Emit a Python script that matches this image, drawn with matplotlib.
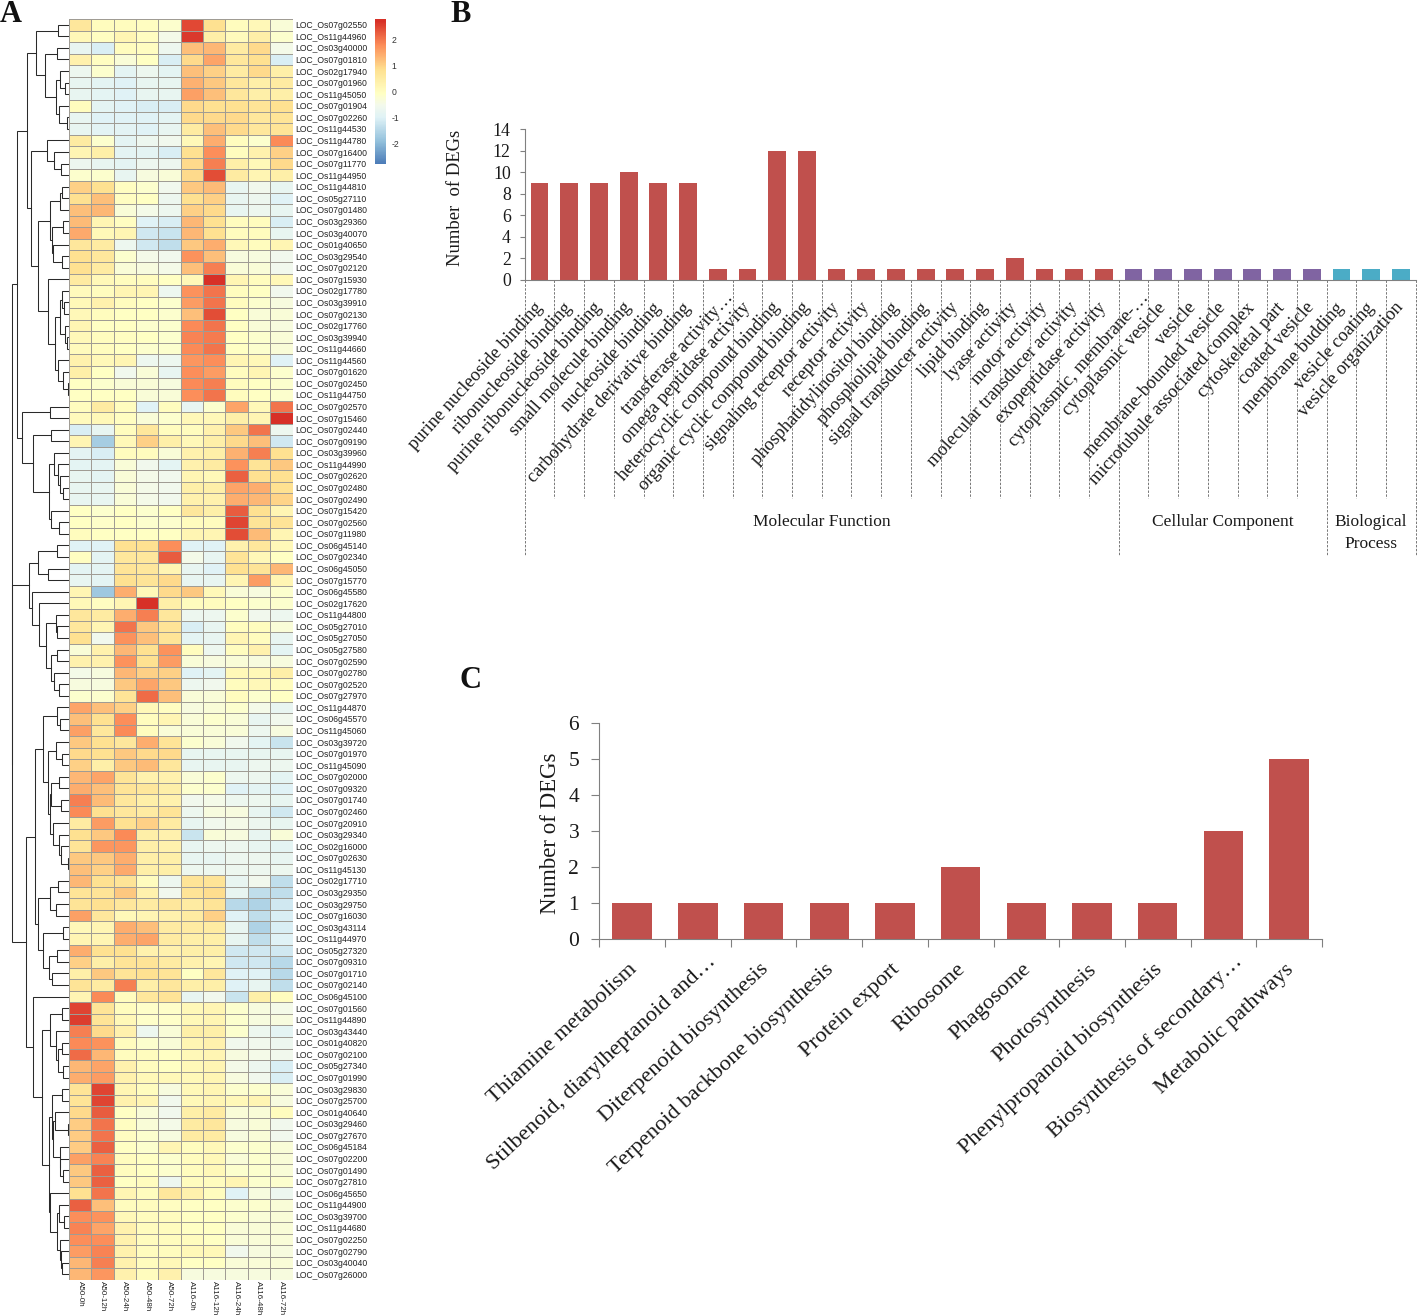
import numpy as np, matplotlib
matplotlib.use('Agg')
import matplotlib.pyplot as plt
from matplotlib.colors import LinearSegmentedColormap
from matplotlib.transforms import ScaledTranslation

##### DATA #####

gene_ids = """Os07g02550 Os11g44960 Os03g40000 Os07g01810 Os02g17940 Os07g01960 Os11g45050 Os07g01904 Os07g02260 Os11g44530
Os11g44780 Os07g16400 Os07g11770 Os11g44950 Os11g44810 Os05g27110 Os07g01480 Os03g29360 Os03g40070 Os01g40650
Os03g29540 Os07g02120 Os07g15930 Os02g17780 Os03g39910 Os07g02130 Os02g17760 Os03g39940 Os11g44660 Os11g44560
Os07g01620 Os07g02450 Os11g44750 Os07g02570 Os07g15460 Os07g02440 Os07g09190 Os03g39960 Os11g44990 Os07g02620
Os07g02480 Os07g02490 Os07g15420 Os07g02560 Os07g11980 Os06g45140 Os07g02340 Os06g45050 Os07g15770 Os06g45580
Os02g17620 Os11g44800 Os05g27010 Os05g27050 Os05g27580 Os07g02590 Os07g02780 Os07g02520 Os07g27970 Os11g44870
Os06g45570 Os11g45060 Os03g39720 Os07g01970 Os11g45090 Os07g02000 Os07g09320 Os07g01740 Os07g02460 Os07g20910
Os03g29340 Os02g16000 Os07g02630 Os11g45130 Os02g17710 Os03g29350 Os03g29750 Os07g16030 Os03g43114 Os11g44970
Os05g27320 Os07g09310 Os07g01710 Os07g02140 Os06g45100 Os07g01560 Os11g44890 Os03g43440 Os01g40820 Os07g02100
Os05g27340 Os07g01990 Os03g29830 Os07g25700 Os01g40640 Os03g29460 Os07g27670 Os06g45184 Os07g02200 Os07g01490
Os07g27810 Os06g45650 Os11g44900 Os03g39700 Os11g44680 Os07g02250 Os07g02790 Os03g40040 Os07g26000""".split()
gene_labels = ['LOC_' + g for g in gene_ids]

samples = ['A50-0h', 'A50-12h', 'A50-24h', 'A50-48h', 'A50-72h',
           'A116-0h', 'A116-12h', 'A116-24h', 'A116-48h', 'A116-72h']

expr = [
    [0.7,0.1,0.1,0.05,-0.1,2.55,0.9,0.1,0.2,-0.2],
    [0.2,0.05,0.3,0.05,-0.4,2.7,0.5,0.15,0.5,-0.1],
    [-0.7,-1.0,0.1,0.05,-0.6,1.3,1.4,0.6,1.0,-0.4],
    [0.4,0.05,-0.2,0,-1.0,1.0,1.6,0.7,0.9,-1.0],
    [-0.6,-0.1,-0.8,-0.6,-0.8,1.3,1.1,0.6,1.0,0.5],
    [-0.7,-0.8,-0.9,-0.7,-0.7,1.45,1.2,0.7,0.5,0.6],
    [-0.7,-0.8,-0.9,-0.7,-0.7,1.65,1.3,0.7,0.5,0.5],
    [0.1,-0.8,-0.9,-1,-1,1.0,0.9,0.9,0.8,0.9],
    [-0.7,-0.9,-0.9,-0.9,-0.8,1.0,1.0,1.0,0.7,0.8],
    [-0.7,-0.85,-0.85,-0.9,-0.7,0.6,1.3,1.0,0.7,0.8],
    [0.6,-0.1,-0.8,-0.6,-0.5,0.2,1.5,0.1,-0.1,1.9],
    [0.3,0.5,-0.8,-0.8,-1.0,0.9,1.85,0.1,0.4,1.1],
    [-0.6,-0.7,-0.8,-0.6,-0.6,1.0,2.0,0.5,0.2,1.0],
    [-0.1,-0.1,-0.7,-0.3,-0.2,1.0,2.5,0.6,0.3,0.5],
    [1.1,0.9,0.05,-0.1,-0.5,1.2,1.35,-0.7,-0.5,-0.7],
    [0.9,1.3,0.05,0,-0.6,0.9,1.1,-0.7,-0.6,-0.9],
    [1.3,1.4,-0.2,-0.4,-0.6,1.1,1.0,-0.7,-0.6,-0.7],
    [1.35,0.3,0.05,-0.9,-1,1.4,0.9,0.1,0.1,-1.0],
    [1.55,0.2,0.3,-1.1,-1.2,1.4,0.9,0.1,0.1,-0.7],
    [0.7,0.6,-0.6,-1.1,-1.3,1.2,1.5,0.2,0.1,0.3],
    [0.9,0.7,-0.1,-0.4,-0.5,1.8,1.3,-0.3,-0.3,-0.5],
    [0.9,0.6,-0.2,-0.3,-0.4,1.3,2.0,-0.2,-0.2,-0.5],
    [0.6,0.2,0.1,0.1,0,0.2,2.8,0.3,0.1,0.2],
    [0.15,0.1,0.3,0.3,-0.6,1.8,2.1,0.1,0,-0.5],
    [0.2,0.4,0.1,0,-0.1,1.7,2.1,0.1,-0.1,-0.3],
    [0.2,0.1,0,0,-0.1,1.3,2.5,0,-0.2,-0.2],
    [0.3,0,0,-0.1,-0.1,1.9,2.1,0,-0.2,-0.3],
    [0.2,0.1,0.05,0,-0.1,1.95,2.05,0,-0.1,-0.2],
    [0.15,0.1,0,-0.1,-0.1,1.9,2.1,0,-0.1,-0.2],
    [0.4,0.2,0.3,-0.6,-0.6,1.75,1.85,0.3,0.2,-0.9],
    [0.5,0,-0.5,-0.2,-0.7,1.85,1.7,0.1,0.3,-0.1],
    [0,-0.1,-0.2,-0.2,-0.3,1.9,2.0,0.1,0,-0.1],
    [0,0,0,-0.2,-0.2,1.85,2.1,0.1,0,-0.1],
    [0.1,0.6,0.1,-0.9,0.1,-0.7,-0.1,1.6,0.2,2.1],
    [0.15,0.2,0.05,-0.2,-0.1,0.2,0.2,0.5,0.3,2.8],
    [-1.0,-0.7,0.1,0.7,0.1,0.1,0.4,1.2,2.1,-0.6],
    [0.3,-1.6,0.2,1.1,0.5,0.2,0.5,1.0,1.3,-1.1],
    [-0.8,-1.0,0.1,0.1,-0.2,0.4,0.5,1.45,2.0,0.9],
    [-0.8,-0.8,-0.2,-0.5,-0.8,0.4,0.6,1.8,0.8,1.2],
    [-0.7,-0.8,-0.2,-0.4,-0.5,0.3,0.2,2.3,0.9,0.9],
    [-0.7,-0.7,-0.2,-0.4,-0.5,0.5,0.5,1.6,1.5,0.9],
    [-0.7,-0.7,-0.2,-0.4,-0.5,0.4,0.4,1.5,1.4,1.05],
    [0,-0.1,0,-0.1,0,0.7,0.5,2.35,0.9,0.3],
    [0,-0.05,0,-0.1,-0.1,0.1,0.1,2.6,0.8,0.8],
    [0.1,0,0,0,0,0.3,0.3,2.5,1.35,0.3],
    [-0.9,-0.9,0.9,0.9,1.85,-0.9,-0.9,0.4,0.7,0.2],
    [0.05,-0.8,0.7,0.7,2.35,-0.4,-0.7,0.8,0.2,0],
    [-0.8,-0.8,0.8,0.7,0.3,-0.7,-0.9,0.9,0.8,1.4],
    [-0.7,-0.8,0.9,0.8,1.0,-0.7,-0.7,0.3,1.7,0.3],
    [0.3,-1.7,1.5,0.2,1.0,1.2,0.2,-0.2,-0.3,-0.1],
    [0.2,0.05,0.3,2.8,0.5,0.1,0.1,0,-0.1,-0.1],
    [0.7,0.6,1.5,2.0,0.7,-0.6,-0.6,-0.1,-0.5,-0.6],
    [0.7,0.3,2.1,1.2,0.8,-1.0,-0.7,0.1,0.1,-0.2],
    [0.9,-0.5,1.8,1.3,0.8,-0.8,-0.7,0.3,0.1,-0.7],
    [-0.2,0.4,1.4,0.9,1.8,0.1,-0.6,0.1,0.4,-0.8],
    [0.4,0.4,1.8,0.9,1.7,-0.2,-0.3,-0.2,-0.3,-0.3],
    [-0.4,-0.3,1.4,1.1,1.1,-0.9,-0.8,0.2,0.2,0.5],
    [-0.3,-0.3,1.2,1.6,1.2,-0.6,-0.5,0.1,0.2,0.1],
    [-0.1,-0.1,0.8,2.2,1.3,-0.2,-0.2,0.1,-0.1,0],
    [1.6,1.3,1.1,0.2,0.05,-0.3,-0.2,-0.1,-0.4,-0.7],
    [1.3,0.9,1.85,0.1,0.3,-0.2,-0.1,-0.2,-0.7,-0.5],
    [1.65,0.7,1.9,0.1,-0.2,-0.2,-0.2,-0.2,-0.6,-0.3],
    [1.2,0.9,0.7,1.5,0.8,-0.1,-0.2,-0.5,-0.8,-1.2],
    [1.0,0.9,1.2,1.0,1.0,-0.7,-0.7,-0.7,-0.7,-0.7],
    [1.1,0.5,1.2,1.35,0.7,-0.7,-0.7,-0.7,-0.6,-0.6],
    [1.4,1.6,0.8,0.4,0.4,-0.2,-0.1,-0.6,-0.6,-0.8],
    [1.5,1.3,0.8,0.7,0.5,-0.1,-0.1,-0.9,-0.8,-0.9],
    [2.0,1.35,0.7,0.5,0.4,-0.5,-0.4,-0.6,-0.6,-0.7],
    [1.9,0.9,0.7,0.6,0.8,-0.6,-0.3,-0.3,-0.7,-1.1],
    [0.6,1.7,0.9,1.1,0.6,-0.7,-0.5,-0.4,-0.6,-0.7],
    [0.9,1.2,1.9,0.5,0.4,-1.2,-0.2,-0.3,-0.7,-0.2],
    [0.8,1.75,1.75,0.5,0.4,-0.7,-0.6,-0.6,-0.7,-0.8],
    [1.2,1.2,1.5,0.5,0.5,-0.7,-0.7,-0.6,-0.6,-0.7],
    [1.3,1.1,1.55,0.5,0.5,-0.6,-0.6,-0.6,-0.6,-0.6],
    [1.4,0.9,0.8,0.1,-0.6,0.8,0.8,-0.7,-0.5,-1.3],
    [0.8,0.8,1.2,0.4,-0.5,0.8,0.95,-0.7,-1.3,-1.3],
    [0.8,0.9,0.7,0.6,0.7,0.6,0.8,-1.4,-1.5,-1.1],
    [1.65,0.7,0.2,0.3,0.4,0.6,1.1,-0.9,-1.3,-1.0],
    [0.2,0.3,1.5,1.3,0.6,0.6,0.6,-0.7,-1.5,-1.0],
    [0.3,0.3,1.5,1.6,0.6,0.5,0.5,-0.7,-1.3,-0.9],
    [1.5,0.9,0.9,0.4,0.4,0.5,0.5,-1.1,-1.1,-1.1],
    [1.1,0.5,0.8,0.8,0.6,0.4,0.3,-1.1,-1.1,-1.4],
    [0.5,1.2,0.8,0.9,0.8,0,0.7,-0.9,-0.9,-1.4],
    [0.8,0.6,2.0,0.5,0.7,0.5,0.5,-0.9,-0.7,-1.3],
    [0.3,1.9,0.1,0.7,0.8,-0.7,-0.5,-1.2,0.5,0.1],
    [2.6,0.8,0.1,-0.05,-0.05,0.2,0.3,-0.1,-0.3,-0.4],
    [2.65,0.8,0.2,-0.05,-0.05,0.2,0.3,-0.1,-0.3,-0.3],
    [2.0,1.0,0.4,-0.6,-0.2,0.5,0.5,-0.1,-0.6,-0.8],
    [1.9,1.8,0.1,-0.1,-0.2,0.3,0.4,-0.5,-0.5,-0.6],
    [2.2,1.4,0.1,0.1,0,0.2,0.3,-0.3,-0.4,-0.5],
    [1.4,1.6,0.4,0.1,0,0.2,0.3,-0.4,-0.6,-1.0],
    [1.5,1.7,0.4,0.2,0.2,0.2,0.3,-0.3,-0.5,-1.0],
    [0.8,2.6,0.3,0.1,-0.3,0.2,0.3,-0.1,-0.1,-0.2],
    [0.8,2.6,0.4,0.3,-0.5,0.2,0.3,0.2,0.3,-0.3],
    [1.0,2.35,0,-0.2,-0.5,0.5,0.6,-0.2,-0.2,0.1],
    [1.15,2.1,0.05,-0.2,-0.4,0.6,0.7,-0.3,-0.2,-0.5],
    [1.15,2.1,0.05,-0.1,-0.3,0.6,0.6,-0.3,-0.2,-0.5],
    [1.15,2.3,0,-0.1,0.3,0.1,0.2,-0.1,-0.1,-0.2],
    [1.65,1.95,0.1,0,-0.1,0.1,0.2,-0.2,-0.1,-0.2],
    [1.2,2.3,0.1,0,-0.1,0.1,0.2,-0.1,-0.1,-0.2],
    [1.2,2.3,0,0.1,-0.6,0.1,0.1,0.3,-0.1,-0.1],
    [0.9,2.1,0.3,0.1,0.7,0.4,0.1,-0.9,-0.3,-0.6],
    [2.3,1.3,0.1,0.1,0.05,0,0,-0.1,-0.1,-0.2],
    [1.85,1.8,0.2,0.1,0.1,0,0,-0.1,-0.2,-0.2],
    [1.95,1.6,0.4,0.1,0.1,0,0,-0.2,-0.2,-0.2],
    [1.85,1.85,0.4,0.1,0.1,0.1,0,-0.2,-0.2,-0.2],
    [1.7,1.95,0.4,0.1,0.1,0.2,0.2,-0.5,-0.3,-0.3],
    [1.4,2.0,0.4,0.1,0.2,0,0,-0.2,-0.2,-0.2],
    [1.4,1.75,0.4,0.1,0.4,-0.3,-0.3,-0.3,-0.3,-0.3],
]

# row tree: (merge height, child, child), L = one heatmap row, rows taken top to bottom
L = None
t_a = (33, (11, L, L),
       (24, (12, L, L),
        (13, (9, L, (4, L, L)), (10, L, (2, L, L)))))
t_c = (22, L, (15, L, (8, L, L)))
t_d1 = (19, (9, (7, L, L), L),
        (17, (6, L, L), (16, L, (7, L, L))))
t_d2 = (21, L,
        (14, (9, (7, L, (5, L, L)), (4.5, L, (2, L, L))),
         (11, L, (6, L, (1.5, L, L)))))
t_f = (36, (18, L, L),
       (20, (15, L, (11, L, (9, L, (6, L, L)))), (18, L, (10.5, L, L))))
t_top = (52, (42, t_a, (38, t_c, (31, t_d1, t_d2))), (47, (19.5, L, L), t_f))
t_mid = (40, (31.5, (12.5, L, L), (21, L, L)),
         (37.5, L,
          (30.5, L,
           (23, (13.5, L, (12, L, L)),
            (18, (12, L, L), (15.5, L, (10, L, L)))))))
t_n2 = (19, (18, (10, L, L), (8.5, L, L)),
        (16, L, (10, L, (8.5, L, (1.5, L, L)))))
t_z2a = (34.5,
         (26.5, (12, L, (9, L, L)), (21.5, (13.5, L, (7, L, L)), t_n2)),
         (31.5, (19.5, (11, L, L), (13, L, L)),
          (26.5, (6, L, L), (20, (12, L, L), (17.5, L, L)))))
t_o = (19, (7.5, L, L), (13.5, L, (11, (7, L, L), (6.5, L, L))))
t_p1 = (17, (7.5, L, L),
        (16, (14, L, (1, L, L)), (9.5, L, (9, L, (6, L, L)))))
t_p2 = (19, L,
        (12, (10.5, L, (5, L, L)), (9, L, (8.5, L, (7, L, L)))))
t_z2b = (36.5, L, (27.5, t_o, (20.5, t_p1, t_p2)))
row_tree = (57.5, t_top, (57, t_mid, (43, t_z2a, t_z2b)))

go_terms = ['purine nucleoside binding', 'ribonucleoside binding', 'purine ribonucleoside binding',
            'small molecule binding', 'nucleoside binding', 'carbohydrate derivative binding',
            'transferase activity\u2026', 'omega peptidase activity', 'heterocyclic compound binding',
            'organic cyclic compound binding', 'signaling receptor activity', 'receptor activity',
            'phosphatidylinositol binding', 'phospholipid binding', 'signal transducer activity',
            'lipid binding', 'lyase activity', 'motor activity', 'molecular transducer activity',
            'exopeptidase activity', 'cytoplasmic, membrane-\u2026', 'cytoplasmic vesicle', 'vesicle',
            'membrane-bounded vesicle', 'microtubule associated complex', 'cytoskeletal part',
            'coated vesicle', 'membrane budding', 'vesicle coating', 'vesicle organization']
go_counts = [9, 9, 9, 10, 9, 9, 1, 1, 12, 12, 1, 1, 1, 1, 1, 1, 2, 1, 1, 1,
             1, 1, 1, 1, 1, 1, 1, 1, 1, 1]
go_groups = ['Molecular Function', 'Cellular Component', 'Biological\nProcess']
go_group_sizes = [20, 7, 3]
go_group_colors = ['#C0504D', '#8064A2', '#4BACC6']

kegg_terms = ['Thiamine metabolism', 'Stilbenoid, diarylheptanoid and\u2026', 'Diterpenoid biosynthesis',
              'Terpenoid backbone biosynthesis', 'Protein export', 'Ribosome', 'Phagosome',
              'Photosynthesis', 'Phenylpropanoid biosynthesis', 'Biosynthesis of secondary\u2026',
              'Metabolic pathways']
kegg_counts = [1, 1, 1, 1, 1, 2, 1, 1, 1, 3, 5]

##### FIGURE SETUP #####

W, H = 1425, 1316
plt.rcParams['font.family'] = ['Liberation Serif', 'DejaVu Serif']
fig = plt.figure(figsize=(W / 100, H / 100), dpi=100)


def px_axes(x0, y0, x1, y1):
    # axes from pixel box, y counted from the top like in the reference
    return fig.add_axes([x0 / W, 1 - y1 / H, (x1 - x0) / W, (y1 - y0) / H])


def nudge(labels, dx, dy, ell_dx, ell_dy):
    # move tick labels by pixels, the cut off "..." labels sit further up and right
    for t in labels:
        cut = t.get_text().endswith('\u2026')
        sx, sy = (dx + ell_dx, dy + ell_dy) if cut else (dx, dy)
        t.set_transform(t.get_transform() + ScaledTranslation(sx / 100, sy / 100, fig.dpi_scale_trans))


##### PANEL A - HEATMAP #####

vmax = 2.8
cmap_nodes = [(-2.8, '#4575B4'), (-1.87, '#91BFDB'), (-0.93, '#DFF2F6'), (-0.45, '#F3F9EC'),
              (0, '#FFFFC4'), (0.93, '#FEE090'), (1.87, '#FC8D59'), (2.8, '#D73027')]
cmap = LinearSegmentedColormap.from_list(
    'heat', [((v + vmax) / (2 * vmax), c) for v, c in cmap_nodes], N=256)
data = np.array(expr)
n_rows, n_cols = data.shape

ax = px_axes(69, 19, 292.5, 1280)
mesh = ax.pcolormesh(data, cmap=cmap, vmin=-vmax, vmax=vmax, edgecolors='#a09c94', linewidth=0.6)
ax.set_xlim(0, n_cols)
ax.set_ylim(n_rows, 0)
for s in ax.spines.values():
    s.set_visible(False)
ax.yaxis.tick_right()
ax.set_yticks(np.arange(n_rows) + 0.5, gene_labels, fontsize=6.25, family='Liberation Sans', color='#222222')
ax.set_xticks(np.arange(n_cols) + 0.5, samples, fontsize=5.8, family='Liberation Sans',
              rotation=270, color='#222222')
ax.tick_params(axis='y', length=0, pad=2)
ax.tick_params(axis='x', length=0, pad=1)

cax = px_axes(375, 19, 386, 164)
cb = fig.colorbar(mesh, cax=cax)
cb.outline.set_visible(False)
cb.set_ticks([-2, -1, 0, 1, 2], labels=['-2', '-1', '0', '1', '2'])
cb.ax.tick_params(length=0, labelsize=6.2, pad=4, labelcolor='#333333')
for t in cb.ax.get_yticklabels():
    t.set_family('Liberation Sans')
cb.solids.set_edgecolor('face')

dax = px_axes(10, 19, 69, 1280)
dax.set_xlim(59, 0)
dax.set_ylim(n_rows, 0)
dax.axis('off')
leaf_y = iter(np.arange(n_rows) + 0.5)


def draw_tree(node):
    if node is None:
        return next(leaf_y), 0
    h, left, right = node
    y1, h1 = draw_tree(left)
    y2, h2 = draw_tree(right)
    dax.plot([h1, h, h, h2], [y1, y1, y2, y2], color='#2a2a2a', lw=0.75, solid_joinstyle='miter')
    return (y1 + y2) / 2, h


draw_tree(row_tree)

##### PANEL B - GO BARS #####

bx = px_axes(524.7, 129, 1415.7, 280)
pos = np.arange(len(go_terms)) + 0.5
colors = np.repeat(go_group_colors, go_group_sizes)
bx.bar(pos, go_counts, width=0.6, color=colors)
bx.set_xlim(0, len(go_terms))
bx.set_ylim(0, 14)
bx.set_yticks(range(0, 15, 2))
bx.spines[['top', 'right']].set_visible(False)
bx.spines[['left', 'bottom']].set_color('#808080')
bx.tick_params(axis='y', length=3.6, width=0.8, color='#808080', labelsize=12.8, pad=6.5, labelcolor='#1a1a1a')
bx.set_xticks(pos, go_terms, rotation=48, ha='right', va='center', rotation_mode='anchor',
              fontsize=13.2, color='#1a1a1a')
bx.tick_params(axis='x', length=0, pad=18)
nudge(bx.get_xticklabels(), 0, 0, 12, 10)
fig.text(455 / W, 1 - 198 / H, 'Number  of DEGs', rotation=90, ha='center', va='center',
         fontsize=13.4, color='#1a1a1a')

# dashed guides below the axis
short_end, long_end = -218 / (151 / 14), -275 / (151 / 14)
edges = np.cumsum([0] + go_group_sizes)
for x in range(len(go_terms) + 1):
    bx.plot([x, x], [0, long_end if x in edges else short_end], color='#777777', lw=0.7,
            ls=(0, (2.5, 1.5)), clip_on=False)
for name, a, b in zip(go_groups, edges[:-1], edges[1:]):
    lines = name.count('\n')
    bx.text((a + b) / 2, -(242.5 + 10.5 * lines) / (151 / 14), name, ha='center', va='center',
            fontsize=12.5, color='#1a1a1a', linespacing=1.45)

##### PANEL C - KEGG BARS #####

kx = px_axes(599.3, 723.3, 1322, 939.3)
pos = np.arange(len(kegg_terms)) + 0.5
kx.bar(pos, kegg_counts, width=0.6, color='#C0504D')
kx.set_xlim(0, len(kegg_terms))
kx.set_ylim(0, 6)
kx.set_yticks(range(7))
kx.spines[['top', 'right']].set_visible(False)
kx.spines[['left', 'bottom']].set_color('#808080')
kx.tick_params(axis='y', length=5.5, width=0.8, color='#808080', labelsize=15.5, pad=9, labelcolor='#1a1a1a')
kx.set_xticks(np.arange(len(kegg_terms) + 1), minor=False)
kx.set_xticklabels([])
kx.tick_params(axis='x', which='major', length=5.5, width=0.8, color='#808080')
kx.set_xticks(pos, kegg_terms, minor=True, rotation=43, ha='right', va='center', rotation_mode='anchor',
              fontsize=16.1, color='#1a1a1a')
kx.tick_params(axis='x', which='minor', length=0, pad=20)
nudge(kx.get_xticklabels(minor=True), 2, 0, 14, 8)
fig.text(551 / W, 1 - 833 / H, 'Number of DEGs', rotation=90, ha='center', va='center',
         fontsize=16.5, color='#1a1a1a')

##### PANEL LETTERS #####

for letter, x, y in [('A', 11, 14), ('B', 461, 14), ('C', 470, 680)]:
    fig.text(x / W, 1 - y / H, letter, fontsize=22, fontweight='bold', ha='center', va='center', color='#111111')

fig.savefig('out.png', dpi=100)
